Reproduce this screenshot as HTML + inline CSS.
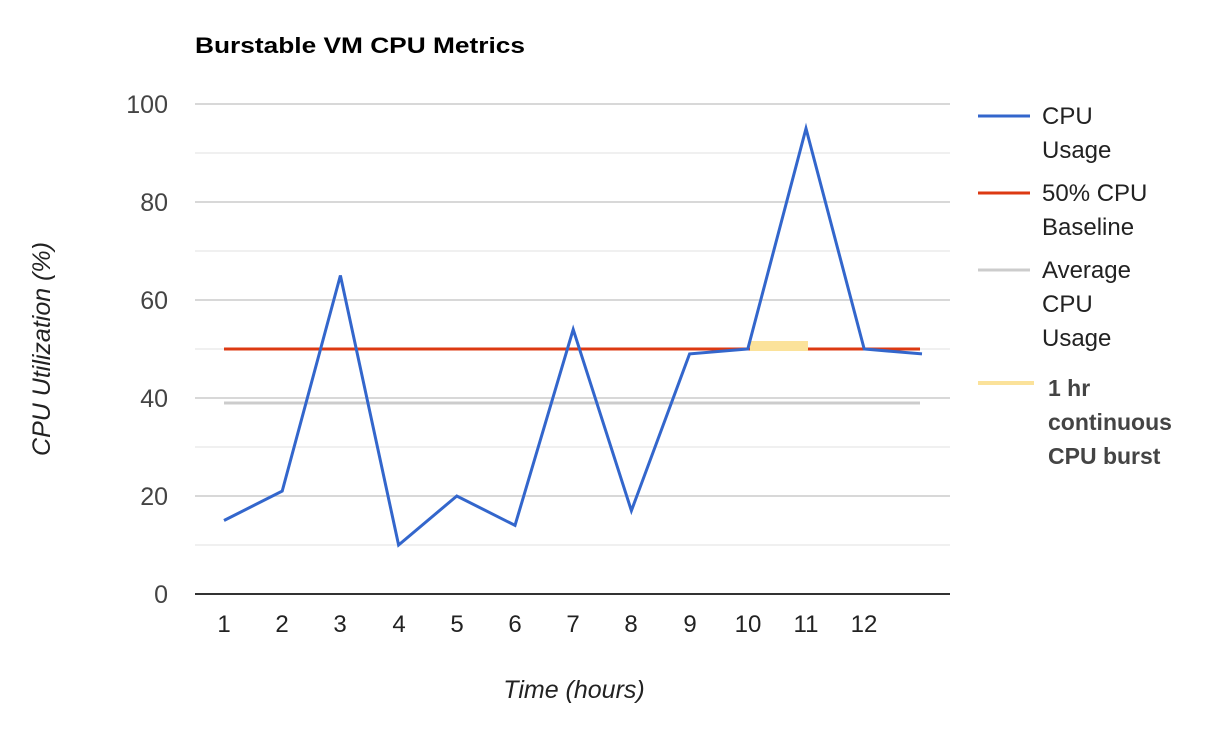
<!DOCTYPE html>
<html><head><style>body{margin:0;background:#fff}</style></head><body>
<svg width="1214" height="730" xmlns="http://www.w3.org/2000/svg" style="font-family:'Liberation Sans',Arial,sans-serif">
<rect width="1214" height="730" fill="#fff"/>
<text x="195" y="53" font-size="22" font-weight="bold" fill="#000" textLength="330" lengthAdjust="spacingAndGlyphs">Burstable VM CPU Metrics</text>
<g stroke="#ebebeb" stroke-width="1.5">
<line x1="195" x2="950" y1="545" y2="545"/><line x1="195" x2="950" y1="447" y2="447"/><line x1="195" x2="950" y1="349" y2="349"/><line x1="195" x2="950" y1="251" y2="251"/><line x1="195" x2="950" y1="153" y2="153"/>
</g>
<g stroke="#cccccc" stroke-width="1.5">
<line x1="195" x2="950" y1="496" y2="496"/><line x1="195" x2="950" y1="398" y2="398"/><line x1="195" x2="950" y1="300" y2="300"/><line x1="195" x2="950" y1="202" y2="202"/><line x1="195" x2="950" y1="104" y2="104"/>
</g>
<line x1="195" x2="950" y1="594" y2="594" stroke="#333" stroke-width="2"/>
<g font-size="25" fill="#444" text-anchor="end">
<text x="168" y="603">0</text><text x="168" y="505">20</text><text x="168" y="407">40</text><text x="168" y="309">60</text><text x="168" y="211">80</text><text x="168" y="113">100</text>
</g>
<g font-size="24" fill="#222" text-anchor="middle">
<text x="224" y="632">1</text><text x="282" y="632">2</text><text x="340" y="632">3</text><text x="399" y="632">4</text><text x="457" y="632">5</text><text x="515" y="632">6</text><text x="573" y="632">7</text><text x="631" y="632">8</text><text x="690" y="632">9</text><text x="748" y="632">10</text><text x="806" y="632">11</text><text x="864" y="632">12</text>
</g>
<text x="574" y="698" font-size="25" font-style="italic" fill="#222" text-anchor="middle">Time (hours)</text>
<text transform="translate(50,349) rotate(-90)" font-size="25" font-style="italic" fill="#222" text-anchor="middle">CPU Utilization (%)</text>
<line x1="224" x2="920" y1="403" y2="403" stroke="#cccccc" stroke-width="3"/>
<line x1="224" x2="920" y1="349" y2="349" stroke="#dc3912" stroke-width="3"/>
<line x1="750" x2="808" y1="346" y2="346" stroke="#fbe29a" stroke-width="10"/>
<polyline fill="none" stroke="#3366cc" stroke-width="3" stroke-linejoin="miter" points="224,520.5 282.2,491.1 340.4,275.5 398.6,545 456.8,496 515,525.4 573.2,329.4 631.4,510.7 689.6,353.9 747.8,349 806,128.5 864.2,349 922,353.9"/>
<g font-size="24" fill="#222">
<line x1="978" x2="1030" y1="116" y2="116" stroke="#3366cc" stroke-width="3"/>
<text x="1042" y="124">CPU</text><text x="1042" y="158">Usage</text>
<line x1="978" x2="1030" y1="193" y2="193" stroke="#dc3912" stroke-width="3"/>
<text x="1042" y="201">50% CPU</text><text x="1042" y="235">Baseline</text>
<line x1="978" x2="1030" y1="270" y2="270" stroke="#cccccc" stroke-width="3"/>
<text x="1042" y="278">Average</text><text x="1042" y="312">CPU</text><text x="1042" y="346">Usage</text>
</g>
<line x1="978" x2="1034" y1="383" y2="383" stroke="#fbe29a" stroke-width="4"/>
<g font-size="23" font-weight="bold" fill="#444">
<text x="1048" y="396">1 hr</text><text x="1048" y="430">continuous</text><text x="1048" y="464">CPU burst</text>
</g>
</svg>
</body></html>
